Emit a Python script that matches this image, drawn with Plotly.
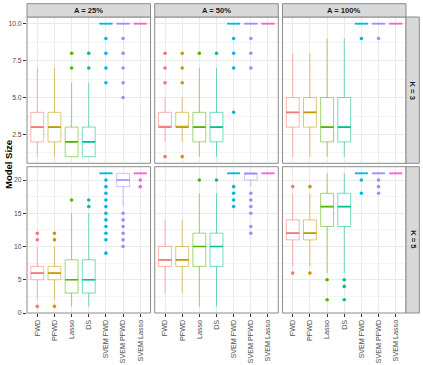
import plotly.graph_objects as go
from plotly.subplots import make_subplots

methods = ["FWD", "PFWD", "Lasso", "DS", "SVEM FWD", "SVEM PFWD", "SVEM Lasso"]
col_labels = ["A = 25%", "A = 50%", "A = 100%"]
row_labels = ["K = 3", "K = 5"]

# one row per panel: K=3 A=25/50/100, then K=5 A=25/50/100
lower = [
    [1, 1, 1, 1, 10, 10, 10],
    [2, 2, 1, 1, 10, 10, 10],
    [1, 1, 1, 1, 10, 10, 10],
    [2, 2, 1, 1, 21, 16, 21],
    [3, 3, 1, 1, 21, 19, 21],
    [7, 7, 6, 6, 21, 21, 21],
]
q1 = [
    [2, 2, 1, 1, 10, 10, 10],
    [3, 3, 2, 2, 10, 10, 10],
    [3, 3, 2, 2, 10, 10, 10],
    [5, 5, 3, 3, 21, 19, 21],
    [7, 7, 7, 7, 21, 20, 21],
    [11, 11, 13, 13, 21, 21, 21],
]
median = [
    [3, 3, 2, 2, 10, 10, 10],
    [3, 3, 3, 3, 10, 10, 10],
    [4, 4, 3, 3, 10, 10, 10],
    [6, 6, 5, 5, 21, 20, 21],
    [8, 8, 10, 10, 21, 21, 21],
    [12, 12, 16, 16, 21, 21, 21],
]
q3 = [
    [4, 4, 3, 3, 10, 10, 10],
    [4, 4, 4, 4, 10, 10, 10],
    [5, 5, 5, 5, 10, 10, 10],
    [7, 7, 8, 8, 21, 21, 21],
    [10, 10, 12, 12, 21, 21, 21],
    [14, 14, 18, 18, 21, 21, 21],
]
upper = [
    [7, 7, 6, 6, 10, 10, 10],
    [5, 5, 7, 7, 10, 10, 10],
    [8, 8, 9, 9, 10, 10, 10],
    [10, 10, 15, 15, 21, 21, 21],
    [14, 14, 18, 18, 21, 21, 21],
    [18, 18, 21, 21, 21, 21, 21],
]
outliers = [
    [[], [], [7, 8], [7, 8], [6, 7, 8, 9], [5, 6, 7, 8, 9], []],
    [[1, 6, 7, 8], [1, 6, 7, 8], [8], [8], [4, 7, 8, 9], [7, 8, 9], []],
    [[], [], [], [], [9], [9], []],
    [[1, 11, 12], [1, 11, 12], [17], [16, 17],
     [9, 11, 12, 13, 14, 15, 16, 17, 18, 19, 20], [10, 11, 12, 13, 14, 15], [19, 20]],
    [[], [], [20], [20], [16, 17, 18, 19], [12, 13, 15, 16, 17, 18], []],
    [[6, 19], [6, 19], [2, 5], [2, 4, 5], [18, 20], [18, 19, 20], []],
]

COLORS = ["#F8766D", "#C49A00", "#53B400", "#00C094", "#00B6EB", "#A58AFF", "#FB61D7"]
BORDER = "#8a8a8a"
GRID = "#ebebeb"
FONT = "Liberation Sans, Arial, sans-serif"

W, H = 423, 365
ML, MR, MT, MB = 27, 17, 17, 52
PW, PH = W - ML - MR, H - MT - MB
GAP_X, GAP_Y = 4.2, 3.4


def fade(hex_color, a):
    h = hex_color.lstrip("#")
    r, g, b = int(h[0:2], 16), int(h[2:4], 16), int(h[4:6], 16)
    return f"rgba({r},{g},{b},{a})"


fig = make_subplots(rows=2, cols=3)

for p in range(6):
    row, col = p // 3 + 1, p % 3 + 1
    for i, m in enumerate(methods):
        c = COLORS[i]
        fig.add_trace(go.Box(
            x=[m], q1=[q1[p][i]], median=[median[p][i]], q3=[q3[p][i]],
            lowerfence=[lower[p][i]], upperfence=[upper[p][i]],
            width=0.75, whiskerwidth=0, boxpoints=False,
            line=dict(color=fade(c, 0.55), width=1),
            fillcolor="rgba(255,255,255,1)",
            showlegend=False, hoverinfo="skip"), row=row, col=col)
        # median drawn again in full colour and thicker
        fig.add_trace(go.Box(
            x=[m], q1=[median[p][i]], median=[median[p][i]], q3=[median[p][i]],
            lowerfence=[median[p][i]], upperfence=[median[p][i]],
            width=0.75, whiskerwidth=0, boxpoints=False,
            line=dict(color=c, width=1.7), fillcolor="rgba(0,0,0,0)",
            showlegend=False, hoverinfo="skip"), row=row, col=col)
        if outliers[p][i]:
            fig.add_trace(go.Scatter(
                x=[m] * len(outliers[p][i]), y=outliers[p][i], mode="markers",
                marker=dict(color=c, size=3.6), showlegend=False,
                hoverinfo="skip"), row=row, col=col)

col_w = (PW - 2 * GAP_X) / 3
row_h = (PH - GAP_Y) / 2
for p in range(6):
    row, col = p // 3 + 1, p % 3 + 1
    n = "" if p == 0 else str(p + 1)
    x0 = (col - 1) * (col_w + GAP_X) / PW
    x1 = x0 + col_w / PW
    if row == 1:
        y0, y1 = (row_h + GAP_Y) / PH, 1.0
    else:
        y0, y1 = 0.0, row_h / PH
    fig.layout["xaxis" + n].update(
        domain=[x0, x1], type="category", categoryorder="array",
        categoryarray=methods, range=[-0.6, 6.6], showgrid=True,
        gridcolor=GRID, gridwidth=1, zeroline=False, showline=False,
        automargin=False,
        showticklabels=(row == 2), ticks="outside" if row == 2 else "",
        ticklen=3, tickcolor="#333333", tickangle=-90,
        tickfont=dict(size=7.2, color="#4d4d4d", family=FONT))
    if row == 1:
        yr, dt, fmt = [0.55, 10.45], 2.5, ".1f"
    else:
        yr, dt, fmt = [0, 22], 5, "d"
    fig.layout["yaxis" + n].update(
        domain=[y0, y1], range=yr, tick0=0, dtick=dt, tickformat=fmt,
        showgrid=True, gridcolor=GRID, gridwidth=1, zeroline=False,
        showline=False, automargin=False, showticklabels=(col == 1),
        ticks="outside" if col == 1 else "", ticklen=3, tickcolor="#333333",
        tickfont=dict(size=6.8, color="#4d4d4d", family=FONT),
        minor=dict(dtick=dt / 2, tick0=0, showgrid=True, gridcolor="#f4f4f4",
                   gridwidth=0.6, ticks=""))
    fig.add_shape(type="rect", xref=f"x{n} domain", yref=f"y{n} domain",
                  x0=0, x1=1, y0=0, y1=1, line=dict(color=BORDER, width=1),
                  fillcolor="rgba(0,0,0,0)", layer="above")

strip = 13.3
for c in range(3):
    n = "" if c == 0 else str(c + 1)
    fig.add_shape(type="rect", xref=f"x{n} domain", yref="paper",
                  x0=0, x1=1, y0=1, y1=1 + strip / PH,
                  line=dict(color=BORDER, width=1), fillcolor="#d9d9d9")
    fig.add_annotation(text=f"<b>{col_labels[c]}</b>", xref=f"x{n} domain",
                       yref="paper", x=0.5, y=1 + strip / 2 / PH,
                       showarrow=False, xanchor="center", yanchor="middle",
                       font=dict(size=7.6, color="#1a1a1a", family=FONT))
for r in range(2):
    n = "3" if r == 0 else "6"
    fig.add_shape(type="rect", xref="paper", yref=f"y{n} domain",
                  x0=1, x1=1 + strip / PW, y0=0, y1=1,
                  line=dict(color=BORDER, width=1), fillcolor="#d9d9d9")
    fig.add_annotation(text=f"<b>{row_labels[r]}</b>", xref="paper",
                       yref=f"y{n} domain", x=1 + strip / 2 / PW, y=0.5,
                       textangle=90, showarrow=False, xanchor="center",
                       yanchor="middle",
                       font=dict(size=7.6, color="#1a1a1a", family=FONT))

fig.add_annotation(text="<b>Model Size</b>", xref="paper", yref="paper",
                   x=(8 - ML) / PW, y=0.5, textangle=-90, showarrow=False,
                   xanchor="center", yanchor="middle",
                   font=dict(size=9.5, color="black", family=FONT))

fig.update_layout(
    width=W, height=H, autosize=False,
    margin=dict(l=ML, r=MR, t=MT, b=MB, pad=0, autoexpand=False),
    paper_bgcolor="white", plot_bgcolor="white",
    font=dict(family=FONT), showlegend=False, boxmode="overlay",
)

# the page body has a default 8px margin; drop it so the figure sits at 0,0
fig.write_html("out.html", config={"displayModeBar": False},
               post_script="document.body.style.margin = '0';")
